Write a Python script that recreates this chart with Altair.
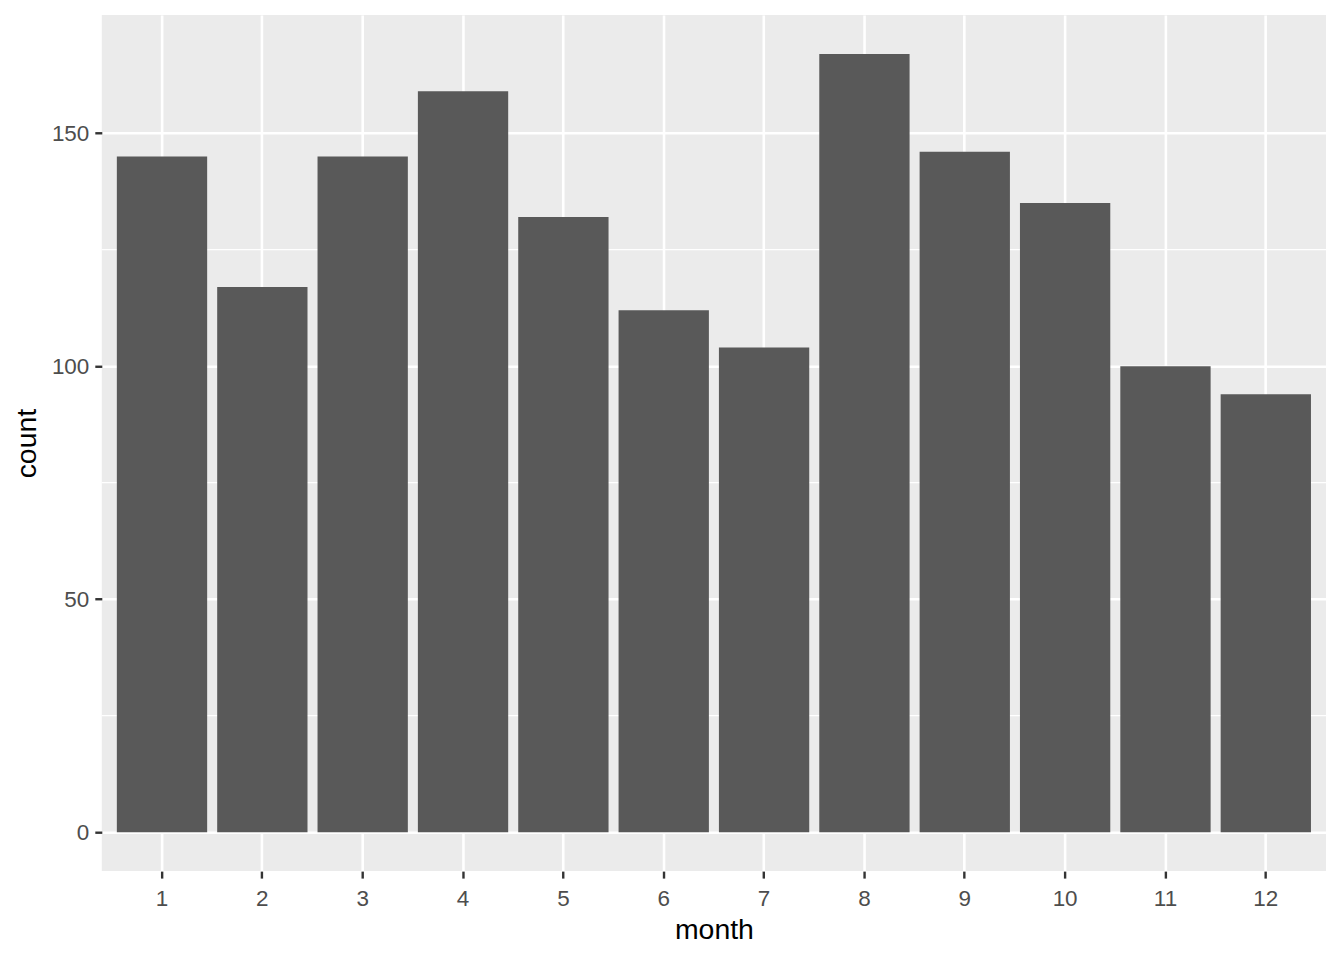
import altair as alt
import pandas as pd

months = [str(m) for m in range(1, 13)]
counts = [145, 117, 145, 159, 132, 112, 104, 167, 146, 135, 100, 94]
minor_breaks = [25, 75, 125]

df = pd.DataFrame({"month": months, "count": counts})
minor_df = pd.DataFrame({"v": minor_breaks})

FONT = "Liberation Sans"

y_scale = alt.Scale(domain=[-8.35, 175.35], nice=False, zero=False)
x_scale = alt.Scale(paddingInner=0.1, paddingOuter=0.15)

minor = alt.Chart(minor_df).mark_rule(color="white", strokeWidth=1.3).encode(
    y=alt.Y("v:Q", scale=y_scale)
)

bars = alt.Chart(df).mark_bar(color="#595959").encode(
    x=alt.X(
        "month:O",
        sort=months,
        scale=x_scale,
        axis=alt.Axis(
            title="month",
            labelAngle=0,
            bandPosition=0.5,
            grid=True,
            gridColor="white",
            gridWidth=2.6,
            domain=False,
            tickColor="#333333",
            tickWidth=2.4,
            tickSize=7,
            labelPadding=9,
            labelColor="#4D4D4D",
            labelFontSize=22.5,
            labelFont=FONT,
            titleFont=FONT,
            titleFontSize=28.5,
            titleFontWeight="normal",
            titleColor="black",
            titlePadding=6,
        ),
    ),
    y=alt.Y(
        "count:Q",
        scale=y_scale,
        axis=alt.Axis(
            title="count",
            values=[0, 50, 100, 150],
            grid=True,
            gridColor="white",
            gridWidth=2.6,
            domain=False,
            tickColor="#333333",
            tickWidth=2.4,
            tickSize=7,
            labelPadding=6,
            labelColor="#4D4D4D",
            labelFontSize=22.5,
            labelFont=FONT,
            titleFont=FONT,
            titleFontSize=28.5,
            titleFontWeight="normal",
            titleColor="black",
            titlePadding=10,
        ),
    ),
)

chart = (
    alt.layer(minor, bars)
    .properties(
        width=1227,
        height=858,
        autosize=alt.AutoSizeParams(type="none"),
        padding={"left": 94, "top": 6, "right": 10, "bottom": 80},
        background="white",
    )
    .configure_view(fill="#EBEBEB", stroke=None)
)

chart.save("out.html", embed_options={"renderer": "svg", "actions": False})
